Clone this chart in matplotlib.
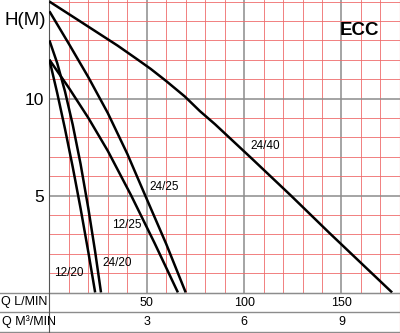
import matplotlib
matplotlib.use("Agg")
import matplotlib.pyplot as plt

plt.rcParams['font.family'] = ['Liberation Sans', 'DejaVu Sans']

# Pump curves, flow Q in L/min, head H in m
q_2440 = [0, 15, 35, 45, 52, 60, 69.6, 77.3, 85, 104, 124, 144, 165.5, 176]
h_2440 = [15.0, 14.03, 12.73, 12.03, 11.53, 10.9, 10.1, 9.35, 8.68, 6.9, 5.0,
          3.05, 1.0, 0]

q_2425 = [0, 10, 20, 30, 40, 49, 60, 70]
h_2425 = [14.5, 12.82, 11.1, 9.25, 7.15, 5.05, 2.5, 0]

q_1225 = [0, 10, 20, 30, 42, 54, 66]
h_1225 = [12.0, 10.55, 9.0, 7.3, 5.0, 2.55, 0]

q_2420 = [0, 4, 8, 12, 16, 20, 23.5, 26.5]
h_2420 = [13.0, 11.83, 10.37, 8.64, 6.63, 4.33, 2.1, 0]

q_1220 = [0, 4, 8, 12, 16, 20, 23.5]
h_1220 = [12.0, 10.29, 8.44, 6.46, 4.34, 2.08, 0]

# curve labels and their positions
labels = ['24/40', '24/25', '12/25', '24/20', '12/20']
label_q = [111, 59, 40, 35, 10]
label_h = [7.55, 5.45, 3.5, 1.5, 1.0]

y_ticks = [5, 10]
q_ticks = [50, 100, 150]
q_m3 = ['3', '6', '9']

RED = '#ef6b6b'
GRAY = '#8c8c8c'

fig = plt.figure(figsize=(4, 3.33), dpi=100)
W, H = 400.0, 333.0
x0, y0 = 49.4, 292.5           # pixel position of Q=0, H=0
ax = fig.add_axes([x0 / W, (H - y0) / H, (399.9 - x0) / W, y0 / H])
ax.set_xlim(0, 180)
ax.set_ylim(0, 15.08)

# grid: red every 10 L/min and every 1 m, gray every 50 L/min and 5 m
for q in range(10, 180, 10):
    c, lw = (GRAY, 1.1) if q % 50 == 0 else (RED, 0.6)
    ax.axvline(q, color=c, lw=lw, zorder=1)
for h in range(1, 16):
    c, lw = (GRAY, 1.1) if h % 5 == 0 and h < 15 else (RED, 0.6)
    ax.axhline(h, color=c, lw=lw, zorder=1)

for q, h in [(q_2440, h_2440), (q_2425, h_2425), (q_1225, h_1225),
             (q_2420, h_2420), (q_1220, h_1220)]:
    ax.plot(q, h, color='black', lw=1.8, zorder=3, solid_capstyle='butt')

for t, q, h in zip(labels, label_q, label_h):
    ax.text(q, h, t, fontsize=8.5, ha='center', va='center', zorder=4)

ax.text(159.5, 13.5, 'ECC', fontsize=13.5, fontweight='bold',
        ha='center', va='center')

ax.set_xticks([])
ax.set_yticks(y_ticks)
ax.set_yticklabels([str(v) for v in y_ticks], fontsize=12.5)
ax.tick_params(axis='y', length=0, pad=4)
ax.text(-1.8, 14.0, 'H(M)', fontsize=13.5, ha='right', va='center')

ax.spines['top'].set_visible(False)
ax.spines['right'].set_color(RED)
ax.spines['right'].set_linewidth(0.8)
ax.spines['left'].set_color('#555555')
ax.spines['bottom'].set_color(GRAY)

# table under the chart
def fy(py):
    return (H - py) / H

for py in [y0, 312.0, 331.5]:
    fig.add_artist(plt.Line2D([0, 1], [fy(py), fy(py)], color=GRAY, lw=1.0))
fig.add_artist(plt.Line2D([x0 / W, x0 / W], [fy(331.5), fy(y0)],
                          color='#555555', lw=0.8))
fig.add_artist(plt.Line2D([399.5 / W, 399.5 / W], [fy(331.5), fy(y0)],
                          color=RED, lw=0.8))

fig.text(1 / W, fy(302.5), 'Q L/MIN', fontsize=9, va='center')
fig.text(2 / W, fy(322), 'Q M³/MIN', fontsize=9, va='center')
for q, m in zip(q_ticks, q_m3):
    px = (x0 + q * (399.9 - x0) / 180) / W
    fig.text(px, fy(302.5), str(q), fontsize=9, ha='center', va='center')
    fig.text(px, fy(322), m, fontsize=9, ha='center', va='center')

fig.savefig('out.png', dpi=100)
